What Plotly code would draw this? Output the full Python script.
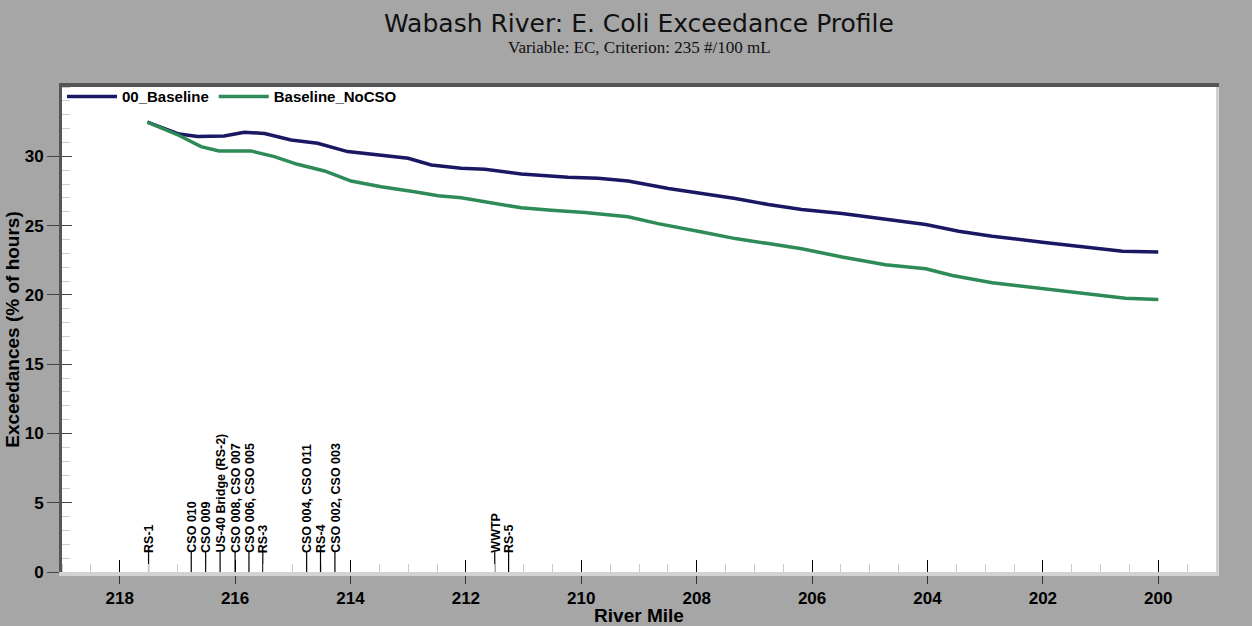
import plotly.graph_objects as go

# ---- data ----
base_mile = [217.52, 216.97, 216.65, 216.19, 215.84, 215.49, 215.03, 214.57, 214.05, 213.47,
             213.0, 212.6, 212.08, 211.67, 211.04, 210.23, 209.71, 209.19, 208.49, 207.91,
             207.33, 206.76, 206.18, 205.48, 204.73, 204.03, 203.46, 202.88, 202.01, 201.14,
             200.62, 200.0]
base_val = [32.46, 31.6, 31.43, 31.47, 31.74, 31.64, 31.18, 30.94, 30.34, 30.1,
            29.86, 29.37, 29.13, 29.06, 28.72, 28.48, 28.41, 28.21, 27.68, 27.32,
            26.96, 26.52, 26.16, 25.87, 25.43, 25.07, 24.59, 24.23, 23.8, 23.38,
            23.14, 23.09]

nocso_mile = [217.52, 216.97, 216.59, 216.28, 215.73, 215.32, 214.92, 214.45, 213.99, 213.47,
              212.89, 212.48, 212.08, 211.67, 211.04, 210.52, 209.94, 209.19, 208.67, 207.91,
              207.33, 206.76, 206.18, 205.48, 204.73, 204.03, 203.57, 202.88, 202.01, 201.14,
              200.57, 200.0]
nocso_val = [32.46, 31.5, 30.7, 30.39, 30.39, 29.98, 29.42, 28.94, 28.21, 27.8,
             27.44, 27.15, 27.0, 26.7, 26.28, 26.11, 25.94, 25.63, 25.14, 24.54,
             24.06, 23.7, 23.33, 22.73, 22.17, 21.88, 21.4, 20.87, 20.43, 20.0,
             19.76, 19.66]

site_miles = [217.5, 216.76, 216.51, 216.26, 216.0, 215.76, 215.52, 214.76, 214.52, 214.27,
              211.5, 211.26]
site_labels = ["RS-1", "CSO 010", "CSO 009", "US-40 Bridge (RS-2)", "CSO 008, CSO 007",
               "CSO 006, CSO 005", "RS-3", "CSO 004, CSO 011", "RS-4", "CSO 002, CSO 003",
               "WWTP", "RS-5"]
site_marker_height = 1.45

series_names = ["00_Baseline", "Baseline_NoCSO"]
title_text = "Wabash River: E. Coli Exceedance Profile"
subtitle_text = "Variable: EC, Criterion: 235 #/100 mL"

x_tickvals = [218, 216, 214, 212, 210, 208, 206, 204, 202, 200]
y_tickvals = [0, 5, 10, 15, 20, 25, 30]

X_RANGE = [219, 199]
Y_RANGE = [0, 35]

fig = go.Figure()

fig.add_trace(go.Scatter(x=base_mile, y=base_val, mode="lines", name=series_names[0],
                         line=dict(color="#191963", width=3.5)))
fig.add_trace(go.Scatter(x=nocso_mile, y=nocso_val, mode="lines", name=series_names[1],
                         line=dict(color="#2e8b57", width=3.5)))

# site marker lines
mx, my = [], []
for m in site_miles:
    mx += [m, m, None]
    my += [0, site_marker_height, None]
fig.add_trace(go.Scatter(x=mx, y=my, mode="lines", showlegend=False, hoverinfo="skip",
                         line=dict(color="black", width=1.2)))

# dummy traces for overlay axes
fig.add_trace(go.Scatter(x=[None], y=[None], xaxis="x2", yaxis="y2", showlegend=False, hoverinfo="skip"))
fig.add_trace(go.Scatter(x=[None], y=[None], xaxis="x3", yaxis="y3", showlegend=False, hoverinfo="skip"))

for m, lab in zip(site_miles, site_labels):
    fig.add_annotation(x=m, y=site_marker_height, xref="x", yref="y", text=lab, textangle=-90,
                       showarrow=False, xanchor="center", yanchor="bottom", yshift=-3, xshift=1,
                       font=dict(family="Arial, Liberation Sans", size=12.5, color="black", weight="bold"))

fig.add_annotation(x=0.5, y=1, xref="paper", yref="paper", text=title_text, showarrow=False,
                   xanchor="center", yanchor="middle", yshift=64,
                   font=dict(family="DejaVu Sans", size=25, color="#111111"))
fig.add_annotation(x=0.5, y=1, xref="paper", yref="paper", text=subtitle_text, showarrow=False,
                   xanchor="center", yanchor="middle", yshift=40,
                   font=dict(family="Liberation Serif", size=17, color="#111111"))

tickfont = dict(family="Arial, Liberation Sans", size=17, color="black", weight="bold")
titlefont = dict(family="Arial, Liberation Sans", size=19, color="black", weight="bold")

fig.update_layout(
    width=1252, height=626, autosize=False,
    margin=dict(l=62, r=36, t=87, b=54),
    paper_bgcolor="#a6a6a6", plot_bgcolor="white",
    showlegend=True,
    legend=dict(orientation="h", x=0.0, y=1.014, xanchor="left", yanchor="top",
                bgcolor="rgba(0,0,0,0)", itemwidth=50, traceorder="normal",
                font=dict(family="Arial, Liberation Sans", size=15, color="black", weight="bold")),
    xaxis=dict(range=X_RANGE, tickmode="array", tickvals=x_tickvals, ticks="outside", ticklen=8,
               tickcolor="#333333", tickwidth=1, showline=True, linecolor="#d2d2d2", linewidth=4,
               showgrid=False, zeroline=False, tickfont=tickfont, automargin=False,
               title=dict(text="River Mile", font=titlefont, standoff=2),
               minor=dict(ticks="inside", dtick=0.5, tick0=200, ticklen=8, tickcolor="#cccccc")),
    yaxis=dict(range=Y_RANGE, tickmode="array", tickvals=y_tickvals, ticks="outside", ticklen=12,
               tickcolor="#444444", tickwidth=1, showline=True, linecolor="#555555", linewidth=3,
               showgrid=False, zeroline=False, tickfont=tickfont, automargin=False,
               title=dict(text="Exceedances (% of hours)", font=titlefont, standoff=1),
               minor=dict(ticks="inside", dtick=1, tick0=0, ticklen=8, tickcolor="#cccccc")),
    xaxis2=dict(range=X_RANGE, overlaying="x", side="top", anchor="y2", showline=True,
                linecolor="#555555", linewidth=4, ticks="", showticklabels=False,
                showgrid=False, zeroline=False, automargin=False),
    yaxis2=dict(range=Y_RANGE, overlaying="y", side="right", anchor="x2", showline=True,
                linecolor="#d2d2d2", linewidth=3, ticks="", showticklabels=False,
                showgrid=False, zeroline=False, automargin=False),
    xaxis3=dict(range=X_RANGE, overlaying="x", side="bottom", anchor="y3", showline=False,
                tickmode="array", tickvals=x_tickvals, ticks="inside", ticklen=12, tickcolor="black",
                showticklabels=False, showgrid=False, zeroline=False, automargin=False),
    yaxis3=dict(range=Y_RANGE, overlaying="y", side="left", anchor="x3", showline=False,
                tickmode="array", tickvals=y_tickvals, ticks="inside", ticklen=10, tickcolor="#444444",
                showticklabels=False, showgrid=False, zeroline=False, automargin=False),
)

fig.write_html("out.html", config={"displayModeBar": False},
               post_script="document.body.style.margin='0px';document.body.style.overflow='hidden';")
